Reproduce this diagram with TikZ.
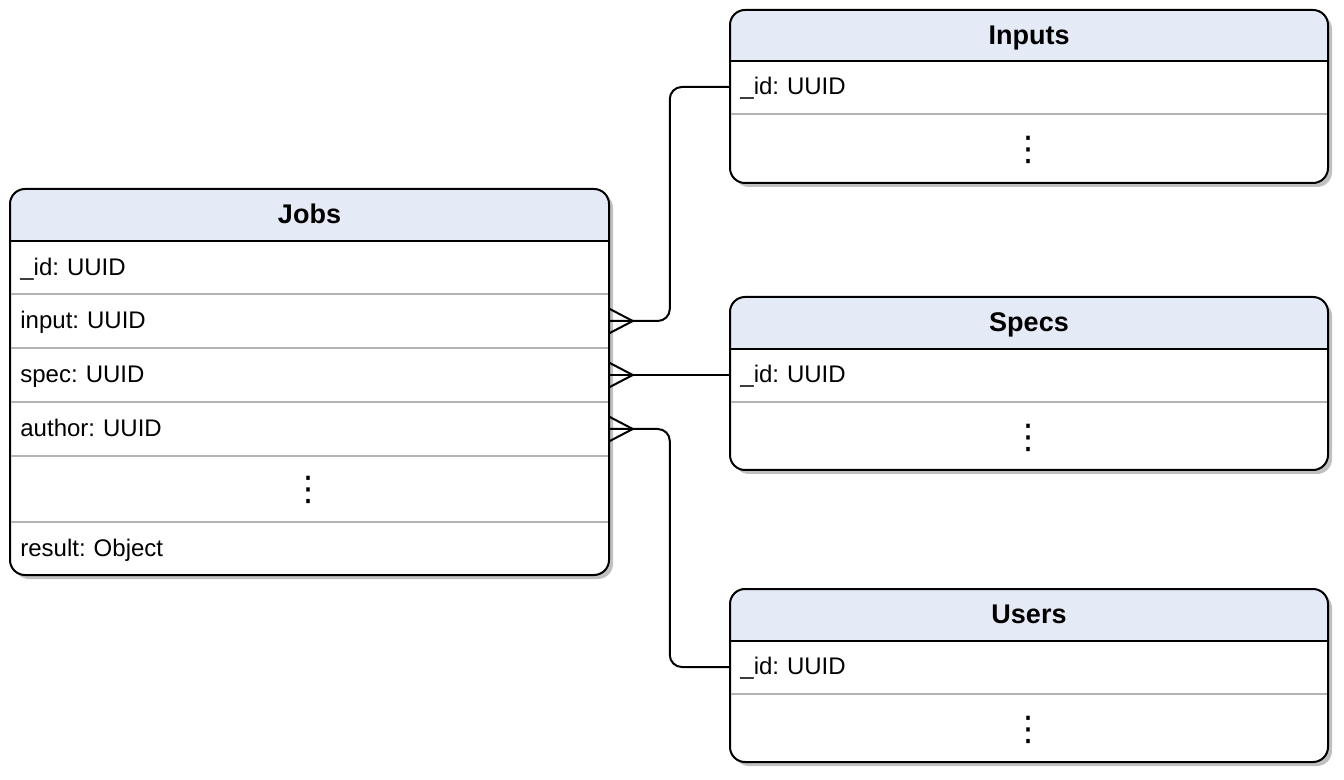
\documentclass[tikz,border=0pt]{standalone}
\usepackage{fontspec}
\setmainfont{Liberation Sans}
\newfontfamily\djv{DejaVu Sans}
\usetikzlibrary{fit,calc}
\frenchspacing
\definecolor{hdrc}{HTML}{E4EBF7}
\definecolor{shadowc}{HTML}{C0C0C0}
\definecolor{sepc}{HTML}{B3B3B3}
\tikzset{
  border/.style={line width=1pt, draw=black},
  sepline/.style={line width=1pt, draw=sepc},
  conn/.style={line width=1pt, draw=black, rounded corners=6pt},
  foot/.style={line width=1pt, draw=black},
  rowtxt/.style={anchor=west, inner xsep=5pt, inner ysep=0pt, text width=289.5pt, align=left,
    font=\fontsize{12}{14}\selectfont, text height=0.716em, text depth=0pt},
  titletxt/.style={inner sep=0pt, font=\fontsize{13.5}{15}\selectfont\bfseries, text height=0.716em, text depth=0pt},
  dotstxt/.style={inner sep=0pt, font=\djv\fontsize{17}{19}\selectfont},
}
% #1 name, #2 x1, #3 y1, #4 x2, #5 y2, #6 header bottom, #7 title
\newcommand\ertable[7]{%
  \fill[shadowc, rounded corners=7.5pt] (#2+4,#3+4) rectangle (#4+4,#5+4);
  \fill[white, rounded corners=7.5pt] (#2,#3) rectangle (#4,#5);
  \begin{scope}
    \clip[rounded corners=7.5pt] (#2,#3) rectangle (#4,#5);
    \fill[hdrc] (#2,#3) rectangle (#4,#6);
  \end{scope}
  \draw[border] (#2,#6) -- (#4,#6);
  \node[fit={(#2,#3) (#4,#5)}, inner sep=0pt, border, rounded corners=7.5pt] (#1) {};
  \node[titletxt] (#1-title) at ({(#2+#4)/2},{(#3+#6)/2+1.5}) {#7};
}
\begin{document}
\begin{tikzpicture}[x=0.5pt, y=-0.5pt]
\useasboundingbox (0,0) rectangle (1344,780);

% Jobs
\ertable{jobs}{10}{189}{609}{575}{241}{Jobs}
\foreach \yy in {294,348,402,456,522} \draw[sepline] (11,\yy) -- (608,\yy);
\node[rowtxt] (jid) at (10,268.5) {\_id: UUID};
\node[rowtxt] (jinput) at (10,321) {input: UUID};
\node[rowtxt] (jspec) at (10,375) {spec: UUID};
\node[rowtxt] (jauthor) at (10,429) {author: UUID};
\node[dotstxt] (jdots) at (308.5,489.5) {⋮};
\node[rowtxt] (jresult) at (10,549.5) {result: Object};

% Inputs
\ertable{inputs}{730}{10}{1328}{183}{61}{Inputs}
\draw[sepline] (731,114) -- (1327,114);
\node[rowtxt] (iid) at (730,87) {\_id: UUID};
\node[dotstxt] (idots) at (1028,150) {⋮};

% Specs
\ertable{specs}{730}{297}{1328}{470}{349}{Specs}
\draw[sepline] (731,402) -- (1327,402);
\node[rowtxt] (sid) at (730,375) {\_id: UUID};
\node[dotstxt] (sdots) at (1028,438) {⋮};

% Users
\ertable{users}{730}{589}{1328}{762}{641}{Users}
\draw[sepline] (731,694) -- (1327,694);
\node[rowtxt] (uid) at (730,667) {\_id: UUID};
\node[dotstxt] (udots) at (1028,730) {⋮};

% connectors
\draw[conn] (jinput.east) -- ++(60,0) |- (iid.west);
\draw[conn] (jspec.east) -- (sid.west);
\draw[conn] (jauthor.east) -- ++(60,0) |- (uid.west);

% crow's feet
\foreach \n in {jinput,jspec,jauthor} {
  \draw[foot] ($(\n.east)+(0,-12)$) -- ($(\n.east)+(23,0)$) -- ($(\n.east)+(0,12)$);
  \draw[foot] (\n.east) -- ($(\n.east)+(23,0)$);
}
\end{tikzpicture}
\end{document}
